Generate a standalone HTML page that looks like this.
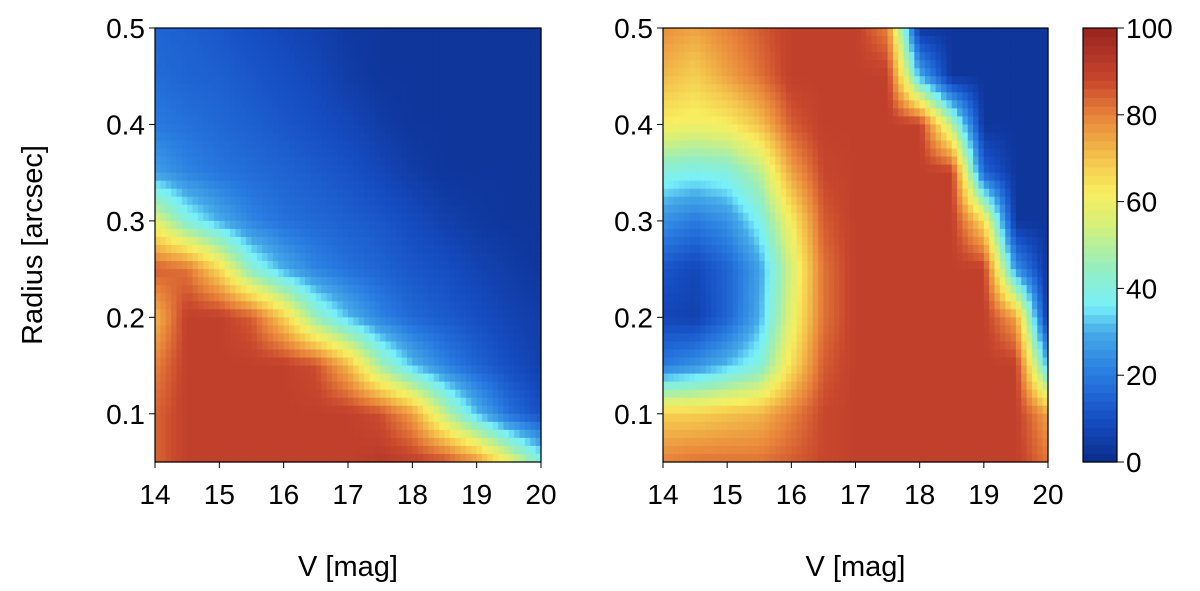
<!DOCTYPE html>
<html><head><meta charset="utf-8"><style>
body{margin:0;background:#fff;}
svg{display:block;font-family:"Liberation Sans",Arial,sans-serif;}
</style></head><body>
<svg id="s" width="1200" height="591" viewBox="0 0 1200 591"></svg>
<script>
const xCats=[14,14.5,15,15.5,16,16.5,17,17.5,18,18.5,19,19.5,20];
const yCats=[0.5,0.45,0.4,0.35,0.3,0.25,0.2,0.15,0.1,0.05];
const leftValues=[
[15,14,12,10,8,6,4,3,3,3,3,3,3],
[17,15,14,12,10,8,5,3,3,3,3,3,3],
[20,18,16,14,12,10,8,5,3,3,3,3,3],
[28,22,19,17,15,13,11,8,5,3,3,3,3],
[58,40,30,22,18,16,14,12,9,6,4,3,3],
[85,82,66,42,30,22,18,15,12,10,7,5,3],
[72,90,90,85,68,45,32,22,16,13,10,7,5],
[80,90,90,90,90,87,72,48,32,22,15,10,6],
[84,90,90,90,90,90,90,87,76,52,32,18,10],
[84,90,90,90,90,90,90,92,90,87,78,60,40]];
const rightValues=[
[78,75,80,85,90,90,90,80,3,3,3,3,3],
[72,68,75,82,90,90,90,90,30,3,3,3,3],
[62,60,62,70,85,90,90,90,90,50,3,3,3],
[40,38,40,50,75,88,90,90,90,90,15,3,3],
[25,20,25,38,62,85,90,90,90,90,65,3,3],
[12,8,15,28,55,82,90,90,90,90,90,25,3],
[8,6,15,30,58,82,90,90,90,90,90,75,3],
[20,25,32,40,65,85,90,90,90,90,90,90,30],
[68,68,70,72,80,88,90,90,90,90,90,90,75],
[80,82,82,82,85,88,90,90,90,90,90,90,82]];
const xTicks=[14,15,16,17,18,19,20];
const yTicks=[0.1,0.2,0.3,0.4,0.5];
const cbTicks=[0,20,40,60,80,100];

const NS="http://www.w3.org/2000/svg";
const svg=document.getElementById('s');
function el(t,a,p){const e=document.createElementNS(NS,t);for(const k in a)e.setAttribute(k,a[k]);(p||svg).appendChild(e);return e;}
const stops=[[0,[12,44,138]],[10,[22,78,196]],[20,[40,122,224]],[30,[70,170,232]],[36,[120,240,250]],[45,[150,238,190]],[55,[215,240,120]],[62,[248,238,96]],[70,[244,196,76]],[80,[232,130,58]],[88,[200,70,45]],[100,[152,36,32]]];
function cmap(v){v=Math.max(0,Math.min(100,v));for(let i=1;i<stops.length;i++){if(v<=stops[i][0]){const a=stops[i-1],b=stops[i],t=(v-a[0])/(b[0]-a[0]);return 'rgb('+a[1].map((c,j)=>Math.round(c+(b[1][j]-c)*t)).join(',')+')';}}return 'rgb(152,36,32)';}
const Y0=28,Y1=462;
function yS(v){return Y0+(0.5-v)/0.45*(Y1-Y0);}
function panel(name,x0,x1,vals,showY){
  const g=el('g',{});
  
  
  const xS=v=>x0+(v-14)/6*(x1-x0);
  const sub=6;
  for(let r=0;r<yCats.length-1;r++)for(let c=0;c<xCats.length-1;c++)
    for(let i=0;i<sub;i++)for(let j=0;j<sub;j++){
      const tx=(j+0.5)/sub,ty=(i+0.5)/sub;
      const v=vals[r][c]*(1-tx)*(1-ty)+vals[r][c+1]*tx*(1-ty)+vals[r+1][c]*(1-tx)*ty+vals[r+1][c+1]*tx*ty;
      const xa=xS(xCats[c]+(xCats[c+1]-xCats[c])*j/sub),xb=xS(xCats[c]+(xCats[c+1]-xCats[c])*(j+1)/sub);
      const ya=yS(yCats[r]+(yCats[r+1]-yCats[r])*i/sub),yb=yS(yCats[r]+(yCats[r+1]-yCats[r])*(i+1)/sub);
      const rc=el('rect',{x:xa,y:ya,width:xb-xa+0.6,height:yb-ya+0.6,fill:cmap(v)},g);
      
      
    }
  el('rect',{x:x0,y:Y0,width:x1-x0,height:Y1-Y0,fill:'none',stroke:'#000','stroke-width':1.2},g);
  xTicks.forEach(t=>{const x=xS(t);el('line',{x1:x,x2:x,y1:Y1,y2:Y1+6,stroke:'#000'},g);
    const tx=el('text',{x:x,y:Y1+42,'font-size':28,'text-anchor':'middle'},g);tx.textContent=t;
    });
  yTicks.forEach(t=>{const y=yS(t);el('line',{x1:x0-6,x2:x0,y1:y,y2:y,stroke:'#000'},g);
    const tx=el('text',{x:x0-10,y:y+10,'font-size':28,'text-anchor':'end'},g);tx.textContent=t.toFixed(1);
    });
  const xt=el('text',{x:(x0+x1)/2,y:576,'font-size':29,'text-anchor':'middle'},g);xt.textContent='V [mag]';
  
  if(showY){const yt=el('text',{x:0,y:0,'font-size':29,'text-anchor':'middle',transform:'translate(42,245) rotate(-90)'},g);yt.textContent='Radius [arcsec]';
    }
}
panel('left-heatmap',155,541,leftValues,true);
panel('right-heatmap',663,1048,rightValues,false);
const cb=el('g',{});


const cx0=1083,cx1=1117,N=50;
for(let i=0;i<N;i++){const v0=100*i/N;const ya=Y1-(Y1-Y0)*(i+1)/N;
  el('rect',{x:cx0,y:ya,width:cx1-cx0,height:(Y1-Y0)/N+0.6,fill:cmap(v0+1)},cb);}
el('rect',{x:cx0,y:Y0,width:cx1-cx0,height:Y1-Y0,fill:'none',stroke:'#000','stroke-width':1.2},cb);
cbTicks.forEach(t=>{const y=Y1-(Y1-Y0)*t/100;el('line',{x1:cx1,x2:cx1+7,y1:y,y2:y,stroke:'#000'},cb);
  const tx=el('text',{x:cx1+9,y:y+10,'font-size':28},cb);tx.textContent=t;
  });
</script>
</body></html>
